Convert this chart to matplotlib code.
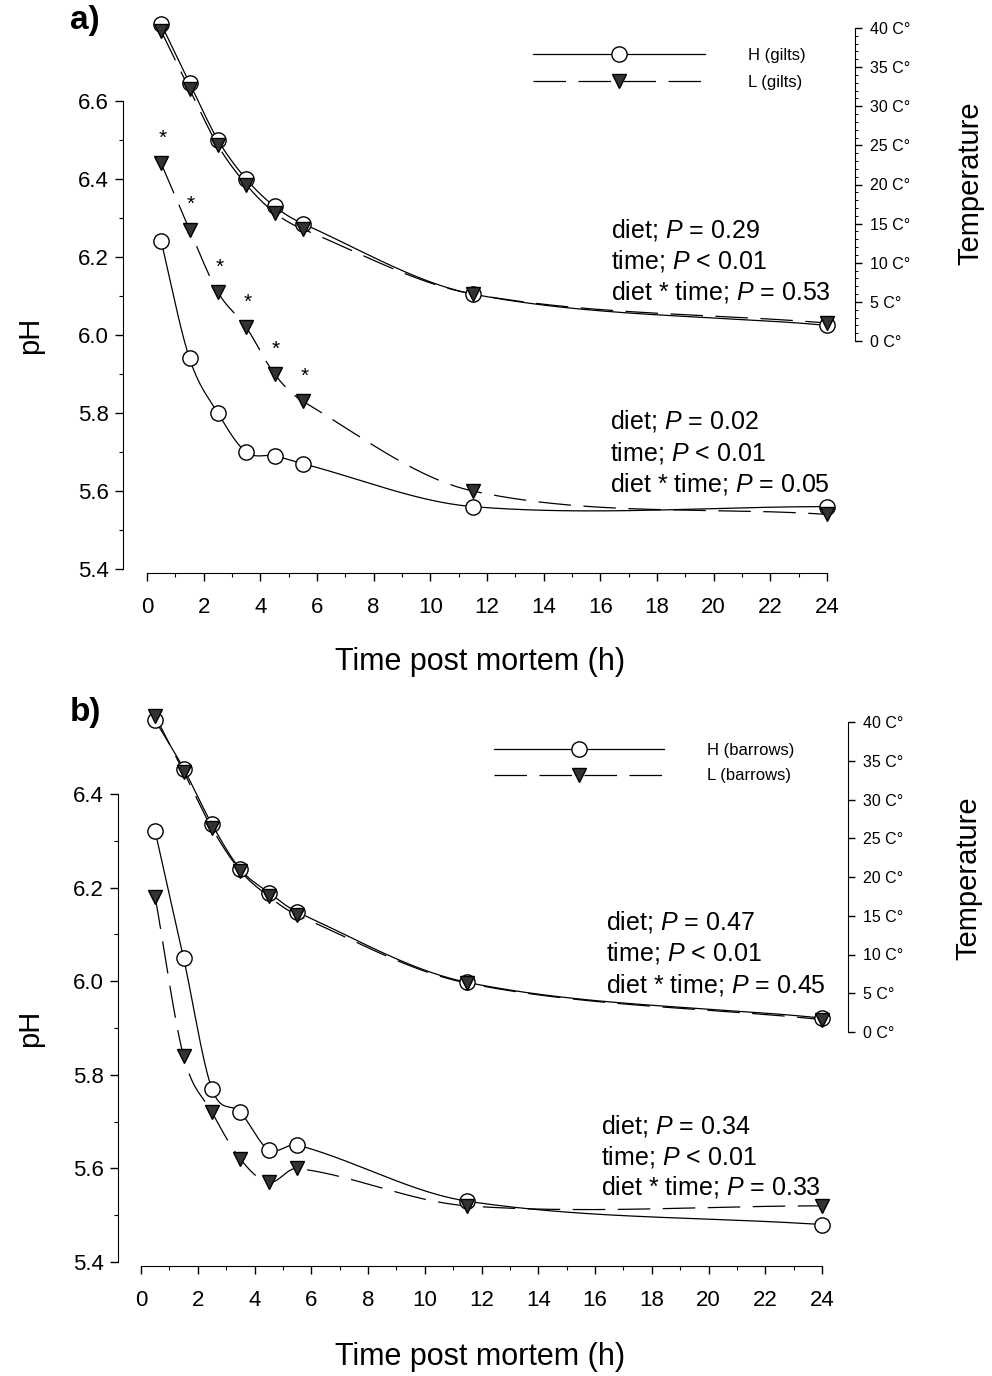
import numpy as np
import matplotlib
matplotlib.use('Agg')
import matplotlib.pyplot as plt
from matplotlib.lines import Line2D

plt.rcParams['font.family'] = ['Liberation Sans', 'DejaVu Sans']
plt.rcParams['mathtext.fontset'] = 'custom'
plt.rcParams['mathtext.it'] = 'Liberation Sans:italic'
plt.rcParams['mathtext.rm'] = 'Liberation Sans'

# sampling times (h post mortem)
hours = [0.5, 1.5, 2.5, 3.5, 4.5, 5.5, 11.5, 24]

# a) gilts
ph_h_a = [6.24, 5.94, 5.80, 5.70, 5.69, 5.67, 5.56, 5.56]
ph_l_a = [6.44, 6.27, 6.11, 6.02, 5.90, 5.83, 5.60, 5.54]
temp_h_a = [40.5, 33.0, 25.7, 20.7, 17.2, 15.0, 6.0, 2.0]
temp_l_a = [39.6, 32.2, 25.0, 20.0, 16.4, 14.3, 6.0, 2.3]
signif_a = [1, 1, 1, 1, 1, 1, 0, 0]

# b) barrows
ph_h_b = [6.32, 6.05, 5.77, 5.72, 5.64, 5.65, 5.53, 5.48]
ph_l_b = [6.18, 5.84, 5.72, 5.62, 5.57, 5.60, 5.52, 5.52]
temp_h_b = [40.2, 34.0, 26.8, 21.0, 18.0, 15.5, 6.4, 1.8]
temp_l_b = [40.8, 33.6, 26.3, 20.8, 17.5, 15.1, 6.3, 1.6]
signif_b = [0, 0, 0, 0, 0, 0, 0, 0]

# statistics text
stats_temp_a = ['= 0.29', '< 0.01', '= 0.53']
stats_ph_a = ['= 0.02', '< 0.01', '= 0.05']
stats_temp_b = ['= 0.47', '< 0.01', '= 0.45']
stats_ph_b = ['= 0.34', '< 0.01', '= 0.33']

ph_ticks = [5.4, 5.6, 5.8, 6.0, 6.2, 6.4, 6.6]
temp_ticks = [0, 5, 10, 15, 20, 25, 30, 35, 40]
x_ticks = list(range(0, 25, 2))

W, H = 992, 1376
fig = plt.figure(figsize=(W / 100, H / 100), dpi=100)

TRI = '#333333'
DASH = (0, (26, 10))


def smooth(x, y, n=400):
    # cardinal (catmull-rom like) spline, only for drawing the connecting curve
    x = np.asarray(x, float)
    y = np.asarray(y, float)
    h = np.diff(x)
    m = np.zeros_like(y)
    m[0] = (y[1] - y[0]) / h[0]
    m[-1] = (y[-1] - y[-2]) / h[-1]
    m[1:-1] = (y[2:] - y[:-2]) / (x[2:] - x[:-2])
    xs = np.linspace(x[0], x[-1], n)
    i = np.clip(np.searchsorted(x, xs) - 1, 0, len(x) - 2)
    t = (xs - x[i]) / h[i]
    h00 = 2 * t**3 - 3 * t**2 + 1
    h10 = t**3 - 2 * t**2 + t
    h01 = -2 * t**3 + 3 * t**2
    h11 = t**3 - t**2
    ys = h00 * y[i] + h10 * h[i] * m[i] + h01 * y[i + 1] + h11 * h[i] * m[i + 1]
    return xs, ys


def draw_pair(ax, yh, yl):
    xs, ys = smooth(hours, yh)
    ax.plot(xs, ys, color='k', lw=0.9, clip_on=False)
    xs, ys = smooth(hours, yl)
    ax.plot(xs, ys, color='k', lw=0.9, ls=DASH, clip_on=False)
    ax.plot(hours, yh, 'o', ms=11, mfc='white', mec='k', mew=1, clip_on=False, zorder=4)
    ax.plot(hours, yl, 'v', ms=10, mfc=TRI, mec='k', mew=1, clip_on=False, zorder=5)


def panel(x0, x1, ytop, ybot, ph_top_px, ph_px, t0_px, t_px, left_out, right_out,
          ph, temp, sig, ph_top, minor_temp):
    ax = fig.add_axes([x0 / W, 1 - ybot / H, (x1 - x0) / W, (ybot - ytop) / H])
    ax.set_xlim(0, 24)
    ax.set_ylim(5.4, ph_top + (ph_top_px - ytop) / ph_px)
    ax2 = ax.twinx()
    ax2.set_ylim((t0_px - ybot) / t_px, (t0_px - ytop) / t_px)

    for s in ['top', 'right']:
        ax.spines[s].set_visible(False)
    for s in ['top', 'left', 'bottom']:
        ax2.spines[s].set_visible(False)
    ax.spines['left'].set_position(('outward', left_out * 0.72))
    ax.spines['left'].set_bounds(5.4, ph_top)
    ax.spines['bottom'].set_position(('outward', 3))
    ax.spines['bottom'].set_bounds(0, 24)
    ax2.spines['right'].set_position(('outward', right_out * 0.72))
    ax2.spines['right'].set_bounds(0, 40)

    yt = [v for v in ph_ticks if v <= ph_top + 1e-9]
    ax.set_yticks(yt)
    ax.set_yticklabels(['%.1f' % v for v in yt])
    ax.set_yticks(np.arange(5.5, ph_top, 0.2), minor=True)
    ax.set_xticks(x_ticks)
    ax.set_xticks(range(0, 25), minor=True)
    ax.tick_params(axis='both', which='major', direction='out', length=6, width=1,
                   labelsize=16)
    ax.tick_params(axis='both', which='minor', direction='out', length=3, width=0.8)
    ax.tick_params(axis='x', which='major', pad=11)
    ax.tick_params(axis='y', which='major', pad=4)

    ax2.set_yticks(temp_ticks)
    ax2.set_yticklabels(['%d C°' % v for v in temp_ticks])
    if minor_temp:
        ax2.set_yticks(range(0, 41), minor=True)
    ax2.tick_params(axis='y', which='major', direction='out', length=5, width=1,
                    labelsize=11.5, pad=6)
    ax2.tick_params(axis='y', which='minor', direction='out', length=2.5, width=0.7)

    draw_pair(ax2, temp[0], temp[1])
    draw_pair(ax, ph[0], ph[1])
    for t, v, s in zip(hours, ph[1], sig):
        if s:
            ax.annotate('*', (t, v), xytext=(1, 18), textcoords='offset points',
                        ha='center', va='center', fontsize=15)

    h_line = Line2D([], [], color='k', lw=0.9, marker='o', ms=11, mfc='white', mec='k')
    l_line = Line2D([], [], color='k', lw=0.9, ls=DASH, marker='v', ms=10, mfc=TRI, mec='k')
    return ax, h_line, l_line


def stats(x, ys, vals):
    names = ['diet', 'time', 'diet * time']
    for y, name, v in zip(ys, names, vals):
        fig.text(x / W, 1 - y / H, '%s; $\\mathit{P}$ %s' % (name, v),
                 ha='left', va='center', fontsize=18)


# panel a
ax, hl, ll = panel(147, 827, 15, 569, 101, 390, 341, 7.825, 24, 28,
                   (ph_h_a, ph_l_a), (temp_h_a, temp_l_a), signif_a, 6.6, True)
ax.legend([hl, ll], ['H (gilts)', 'L (gilts)'], loc='upper left',
          bbox_to_anchor=(533 / W, 1 - 48 / H), bbox_transform=fig.transFigure,
          frameon=False, handlelength=10.3, handletextpad=2.6, labelspacing=0.7,
          fontsize=12, borderpad=0, borderaxespad=0, numpoints=1)
stats(611, [230, 261, 292], stats_temp_a)
stats(610, [421, 453, 484], stats_ph_a)
fig.text(70 / W, 1 - 20 / H, 'a)', fontsize=24, fontweight='bold', ha='left', va='center')
fig.text(30 / W, 1 - 335 / H, 'pH', fontsize=21, rotation=90, ha='center', va='center')
fig.text(970 / W, 1 - 183 / H, 'Temperature', fontsize=21, rotation=90, ha='center', va='center')
fig.text(480 / W, 1 - 662 / H, 'Time post mortem (h)', fontsize=22, ha='center', va='center')

# panel b
ax, hl, ll = panel(141, 822, 705, 1262, 794, 468, 1032, 7.75, 23, 26,
                   (ph_h_b, ph_l_b), (temp_h_b, temp_l_b), signif_b, 6.4, False)
ax.legend([hl, ll], ['H (barrows)', 'L (barrows)'], loc='upper left',
          bbox_to_anchor=(494 / W, 1 - 743 / H), bbox_transform=fig.transFigure,
          frameon=False, handlelength=10.2, handletextpad=2.6, labelspacing=0.62,
          fontsize=12, borderpad=0, borderaxespad=0, numpoints=1)
stats(606, [922, 953, 985], stats_temp_b)
stats(601, [1126, 1157, 1187], stats_ph_b)
fig.text(70 / W, 1 - 712 / H, 'b)', fontsize=24, fontweight='bold', ha='left', va='center')
fig.text(30 / W, 1 - 1028 / H, 'pH', fontsize=21, rotation=90, ha='center', va='center')
fig.text(968 / W, 1 - 878 / H, 'Temperature', fontsize=21, rotation=90, ha='center', va='center')
fig.text(480 / W, 1 - 1357 / H, 'Time post mortem (h)', fontsize=22, ha='center', va='center')

fig.savefig('out.png', dpi=100)
